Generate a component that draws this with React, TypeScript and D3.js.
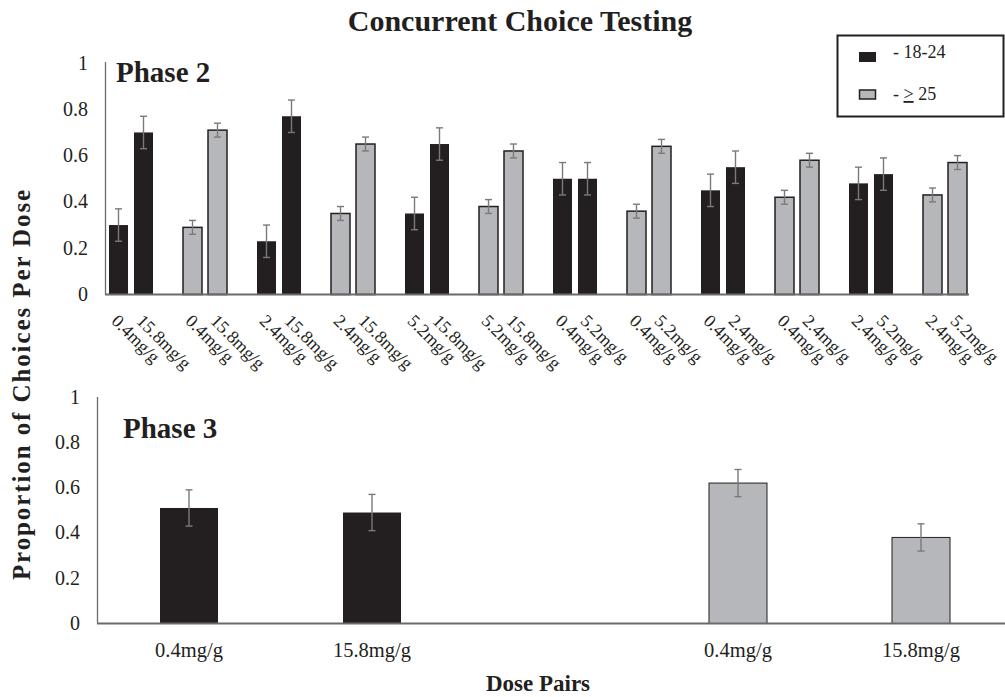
import React from "react";
import * as d3 from "d3";

// ---------- data ----------
const phase2Cohorts = ["18-24", "≥25", "18-24", "≥25", "18-24", "≥25", "18-24", "≥25", "18-24", "≥25", "18-24", "≥25"];
const phase2LowLabels = ["0.4mg/g", "0.4mg/g", "2.4mg/g", "2.4mg/g", "5.2mg/g", "5.2mg/g", "0.4mg/g", "0.4mg/g", "0.4mg/g", "0.4mg/g", "2.4mg/g", "2.4mg/g"];
const phase2HighLabels = ["15.8mg/g", "15.8mg/g", "15.8mg/g", "15.8mg/g", "15.8mg/g", "15.8mg/g", "5.2mg/g", "5.2mg/g", "2.4mg/g", "2.4mg/g", "5.2mg/g", "5.2mg/g"];
const phase2LowValues = [0.30, 0.29, 0.23, 0.35, 0.35, 0.38, 0.50, 0.36, 0.45, 0.42, 0.48, 0.43];
const phase2HighValues = [0.70, 0.71, 0.77, 0.65, 0.65, 0.62, 0.50, 0.64, 0.55, 0.58, 0.52, 0.57];
const phase2LowErr = [0.07, 0.03, 0.07, 0.03, 0.07, 0.03, 0.07, 0.03, 0.07, 0.03, 0.07, 0.03];
const phase2HighErr = [0.07, 0.03, 0.07, 0.03, 0.07, 0.03, 0.07, 0.03, 0.07, 0.03, 0.07, 0.03];

const phase3Slots = ["a", "b", "gap", "c", "d"];
const phase3Keys = ["a", "b", "c", "d"];
const phase3Labels = ["0.4mg/g", "15.8mg/g", "0.4mg/g", "15.8mg/g"];
const phase3Cohorts = ["18-24", "18-24", "≥25", "≥25"];
const phase3Values = [0.51, 0.49, 0.62, 0.38];
const phase3Err = [0.08, 0.08, 0.06, 0.06];

const yTicks = [0, 0.2, 0.4, 0.6, 0.8, 1];
const yTickLabels = ["0", "0.2", "0.4", "0.6", "0.8", "1"];

// ---------- style ----------
const FONT = "'Liberation Serif', 'Times New Roman', serif";
const BLACK = "#231f20";
const GRAY = "#b6b7ba";
const ERR = "#7a7a7a";
const AXIS = "#6a6a6a";
const colorFor = (c: string) => (c === "18-24" ? BLACK : GRAY);

export default function App() {
  // top chart scales
  const yTop = d3.scaleLinear().domain([0, 1]).range([294.5, 63]);
  const xGroups = d3.scaleBand<number>().domain(d3.range(12)).range([94, 982]).padding(0);
  const xInner = d3.scaleBand<number>().domain([0, 1]).range([0, xGroups.bandwidth()]).paddingInner(0.24).paddingOuter(0.6);

  // bottom chart scales
  const yBot = d3.scaleLinear().domain([0, 1]).range([623.5, 397]);
  const xBot = d3.scaleBand<string>().domain(phase3Slots).range([97.5, 1012.5]).paddingInner(0.683).paddingOuter(0.3415);

  const topBars: { x: number; w: number; v: number; e: number; color: string; label: string }[] = [];
  phase2Cohorts.forEach((c, i) => {
    const gx = xGroups(i)!;
    topBars.push({ x: gx + xInner(0)!, w: xInner.bandwidth(), v: phase2LowValues[i], e: phase2LowErr[i], color: colorFor(c), label: phase2LowLabels[i] });
    topBars.push({ x: gx + xInner(1)!, w: xInner.bandwidth(), v: phase2HighValues[i], e: phase2HighErr[i], color: colorFor(c), label: phase2HighLabels[i] });
  });

  const cap = 3.5;

  return (
    <svg width={1005} height={697} style={{ position: "absolute", left: 0, top: 0, background: "#fff" }} fontFamily={FONT}>
      {/* Title */}
      <text x={520} y={31} textAnchor="middle" fontSize={30} fontWeight="bold" fill={BLACK}>
        Concurrent Choice Testing
      </text>

      {/* Y axis title */}
      <text
        transform="translate(29.5,384) rotate(-90)"
        textAnchor="middle"
        fontSize={25}
        fontWeight="bold"
        letterSpacing={1.9}
        fill={BLACK}
      >
        Proportion of Choices Per Dose
      </text>

      {/* ---------- Top chart ---------- */}
      {yTicks.map((t, i) => (
        <text key={"ty" + i} x={88} y={yTop(t) + 6.5} textAnchor="end" fontSize={20} fill={BLACK}>
          {yTickLabels[i]}
        </text>
      ))}
      <line x1={105.5} x2={105.5} y1={yTop(1) - 1} y2={yTop(0)} stroke={AXIS} strokeWidth={1.3} />

      {topBars.map((b, i) => (
        <g key={"tb" + i}>
          <rect
            x={b.x}
            y={yTop(b.v)}
            width={b.w}
            height={yTop(0) - yTop(b.v)}
            fill={b.color}
            stroke={BLACK}
            strokeWidth={b.color === GRAY ? 1.5 : 0}
          />
          <line x1={b.x + b.w / 2} x2={b.x + b.w / 2} y1={yTop(b.v + b.e)} y2={yTop(b.v - b.e)} stroke={ERR} strokeWidth={1.4} />
          <line x1={b.x + b.w / 2 - cap} x2={b.x + b.w / 2 + cap} y1={yTop(b.v + b.e)} y2={yTop(b.v + b.e)} stroke={ERR} strokeWidth={1.4} />
          <line x1={b.x + b.w / 2 - cap} x2={b.x + b.w / 2 + cap} y1={yTop(b.v - b.e)} y2={yTop(b.v - b.e)} stroke={ERR} strokeWidth={1.4} />
          <text
            transform={`translate(${b.x + b.w / 2 - 8},322) rotate(45)`}
            fontSize={18}
            fill={BLACK}
          >
            {b.label}
          </text>
        </g>
      ))}
      <line x1={105} x2={969} y1={yTop(0)} y2={yTop(0)} stroke={AXIS} strokeWidth={2} />

      <text x={116} y={82} fontSize={29} fontWeight="bold" fill={BLACK}>
        Phase 2
      </text>

      {/* Legend */}
      <rect x={837.5} y={35.5} width={166} height={81} fill="#fff" stroke={BLACK} strokeWidth={2} />
      <rect x={859} y={52} width={17} height={10} fill={BLACK} />
      <text x={893} y={58} fontSize={18} fill={BLACK}>- 18-24</text>
      <rect x={859.5} y={90} width={16} height={9} fill={GRAY} stroke={BLACK} strokeWidth={1.5} />
      <text x={893} y={100} fontSize={18} fill={BLACK}>
        {"- "}
        <tspan textDecoration="underline">&gt;</tspan>
        {" 25"}
      </text>

      {/* ---------- Bottom chart ---------- */}
      {yTicks.map((t, i) => (
        <text key={"by" + i} x={80} y={yBot(t) + 6.5} textAnchor="end" fontSize={20} fill={BLACK}>
          {yTickLabels[i]}
        </text>
      ))}
      <line x1={97.5} x2={97.5} y1={yBot(1)} y2={yBot(0)} stroke={AXIS} strokeWidth={1.3} />

      {phase3Keys.map((k, i) => {
        const x = xBot(k)!;
        const w = xBot.bandwidth();
        const v = phase3Values[i];
        const e = phase3Err[i];
        const color = colorFor(phase3Cohorts[i]);
        const cx = x + w / 2;
        return (
          <g key={"bb" + i}>
            <rect x={x} y={yBot(v)} width={w} height={yBot(0) - yBot(v)} fill={color} stroke={BLACK} strokeWidth={color === GRAY ? 1 : 0} />
            <line x1={cx} x2={cx} y1={yBot(v + e)} y2={yBot(v - e)} stroke={ERR} strokeWidth={1.4} />
            <line x1={cx - cap} x2={cx + cap} y1={yBot(v + e)} y2={yBot(v + e)} stroke={ERR} strokeWidth={1.4} />
            <line x1={cx - cap} x2={cx + cap} y1={yBot(v - e)} y2={yBot(v - e)} stroke={ERR} strokeWidth={1.4} />
            <text x={cx} y={657} textAnchor="middle" fontSize={20.5} fill={BLACK}>
              {phase3Labels[i]}
            </text>
          </g>
        );
      })}
      <line x1={97} x2={1005} y1={yBot(0)} y2={yBot(0)} stroke={AXIS} strokeWidth={2} />

      <text x={123} y={438} fontSize={29} fontWeight="bold" fill={BLACK}>
        Phase 3
      </text>

      <text x={538} y={691} textAnchor="middle" fontSize={23} fontWeight="bold" fill={BLACK}>
        Dose Pairs
      </text>
    </svg>
  );
}
